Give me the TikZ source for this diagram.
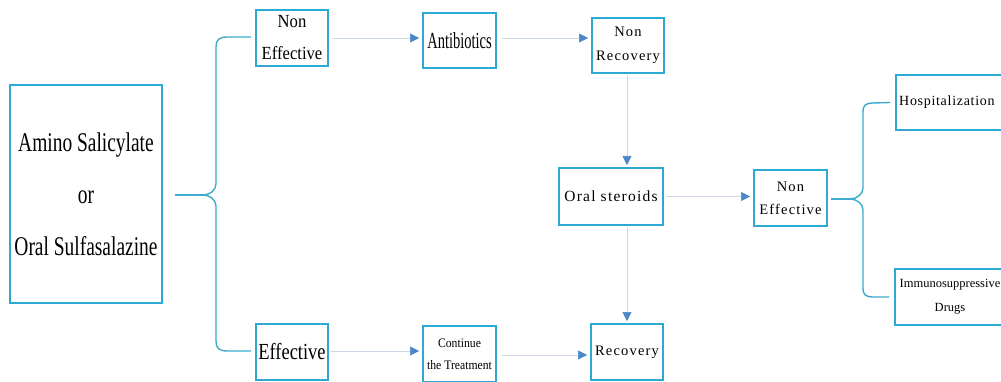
\documentclass[tikz,border=0pt]{standalone}
\usepackage{fontspec}
\setmainfont{Liberation Serif}
\newfontfamily\condA[FakeStretch=0.72]{Liberation Serif}
\newfontfamily\condB[FakeStretch=0.8]{Liberation Serif}
\newfontfamily\condC[FakeStretch=0.63]{Liberation Serif}
\newfontfamily\condD[FakeStretch=0.9]{Liberation Serif}
\newfontfamily\widef[LetterSpace=8]{Liberation Serif}
\newfontfamily\widehf[LetterSpace=5]{Liberation Serif}
\usetikzlibrary{arrows.meta,calc}
\definecolor{boxcol}{RGB}{45,170,212}
\definecolor{headcol}{RGB}{75,135,200}
\definecolor{linecol}{RGB}{205,216,230}
\definecolor{bracecol}{RGB}{60,172,205}
\begin{document}
\begin{tikzpicture}[x=1pt,y=-1pt,
  box/.style={draw=boxcol,line width=2pt,rectangle,inner sep=0pt,align=center,text=black,anchor=center},
  conn/.style={draw=linecol,line width=0.6pt,-{Triangle[length=9pt,width=9pt,color=headcol]}},
  bracel/.style={draw=bracecol,line width=1.4pt}]
\useasboundingbox (0,0) rectangle (1001,382);
\path[clip] (0,0) rectangle (1001,382);
\fill[white] (0,0) rectangle (1001,382);
% nodes
\node[box,minimum width=152pt,minimum height=218pt,font=\condA\fontsize{27}{52}\selectfont] (main) at (86,194)
  {Amino Salicylate\\or\\Oral Sulfasalazine};
\node[box,minimum width=72pt,minimum height=56pt,font=\condD\fontsize{18.5}{32}\selectfont] (ne1) at (292,38)
  {Non\\Effective};
\node[box,minimum width=72pt,minimum height=56pt,font=\condB\fontsize{23}{28}\selectfont] (eff) at (292,352)
  {Effective};
\node[box,minimum width=73pt,minimum height=55pt,font=\condC\fontsize{23}{28}\selectfont] (antib) at (459.5,40.5)
  {Antibiotics};
\node[box,minimum width=72pt,minimum height=55pt,font=\widef\fontsize{14.5}{24}\selectfont] (nonrec) at (628,45.5)
  {Non\\Recovery};
\node[box,minimum width=104pt,minimum height=57pt,font=\widef\fontsize{15.5}{20}\selectfont] (oral) at (611,196.5)
  {Oral steroids};
\node[box,minimum width=73pt,minimum height=56pt,font=\condD\fontsize{13}{22}\selectfont] (cont) at (459.5,354)
  {Continue\\the Treatment};
\node[box,minimum width=72pt,minimum height=56pt,font=\widef\fontsize{14.5}{20}\selectfont] (rec) at (627,352)
  {Recovery};
\node[box,minimum width=73pt,minimum height=56pt,font=\widef\fontsize{14.5}{23}\selectfont] (ne2) at (790.5,198)
  {Non\\Effective};
\node[box,minimum width=110pt,minimum height=55pt] (hosp) at (951,102.5) {};
\node[anchor=west,inner sep=0pt,font=\widehf\fontsize{14}{20}\selectfont] (hospt) at (899,102) {Hospitalization};
\node[box,minimum width=110pt,minimum height=56pt,font=\fontsize{12.5}{24}\selectfont] (immu) at (950,297)
  {Immunosuppressive\\Drugs};
% brace 1
\coordinate (t1) at ($(main.east)+(40,1)$);
\draw[bracel] ($(main.east)+(12,1)$) -- (t1);
\draw[bracel] (t1) .. controls (210,195) and (216,190) .. (216,184)
  -- (216,47) .. controls (216,40) and (219,37) .. (227,37) -- ($(ne1.west)+(-4,-1)$);
\draw[bracel] (t1) .. controls (210,195) and (216,200) .. (216,206)
  -- (216,341) .. controls (216,348) and (219,351) .. (227,351) -- ($(eff.west)+(-4,-1)$);
% brace 2
\coordinate (t2) at ($(ne2.east)+(22,1)$);
\draw[bracel] ($(ne2.east)+(3,1)$) -- (t2);
\draw[bracel] (t2) .. controls (857,199) and (863,194) .. (863,188)
  -- (863,112) .. controls (863,105) and (866,103) .. (873,103) -- ($(hosp.west)+(-5,0)$);
\draw[bracel] (t2) .. controls (857,199) and (863,204) .. (863,210)
  -- (863,288) .. controls (863,295) and (866,297) .. (873,297) -- ($(immu.west)+(-5,0)$);
% connectors
\draw[conn,shorten <=3pt,shorten >=3pt] (ne1.east) -- (antib.west|-ne1.east);
\draw[conn,shorten <=5pt,shorten >=3pt] ([yshift=2.5pt]antib.east) -- ([yshift=2.5pt]antib.east-|nonrec.west);
\draw[conn,shorten <=1pt,shorten >=2pt] ([xshift=-1pt]nonrec.south) -- ([xshift=-1pt]nonrec.south|-oral.north);
\draw[conn,shorten <=1pt,shorten >=2pt] (oral.south-|rec.north) -- (rec.north);
\draw[conn,shorten <=2pt,shorten >=3pt] ([yshift=1pt]eff.east) -- ([yshift=1pt]eff.east-|cont.west);
\draw[conn,shorten <=5pt,shorten >=3pt] ([yshift=-1pt]cont.east) -- ([yshift=-1pt]cont.east-|rec.west);
\draw[conn,shorten <=2pt,shorten >=3pt] (oral.east) -- (oral.east-|ne2.west);
\end{tikzpicture}
\end{document}
